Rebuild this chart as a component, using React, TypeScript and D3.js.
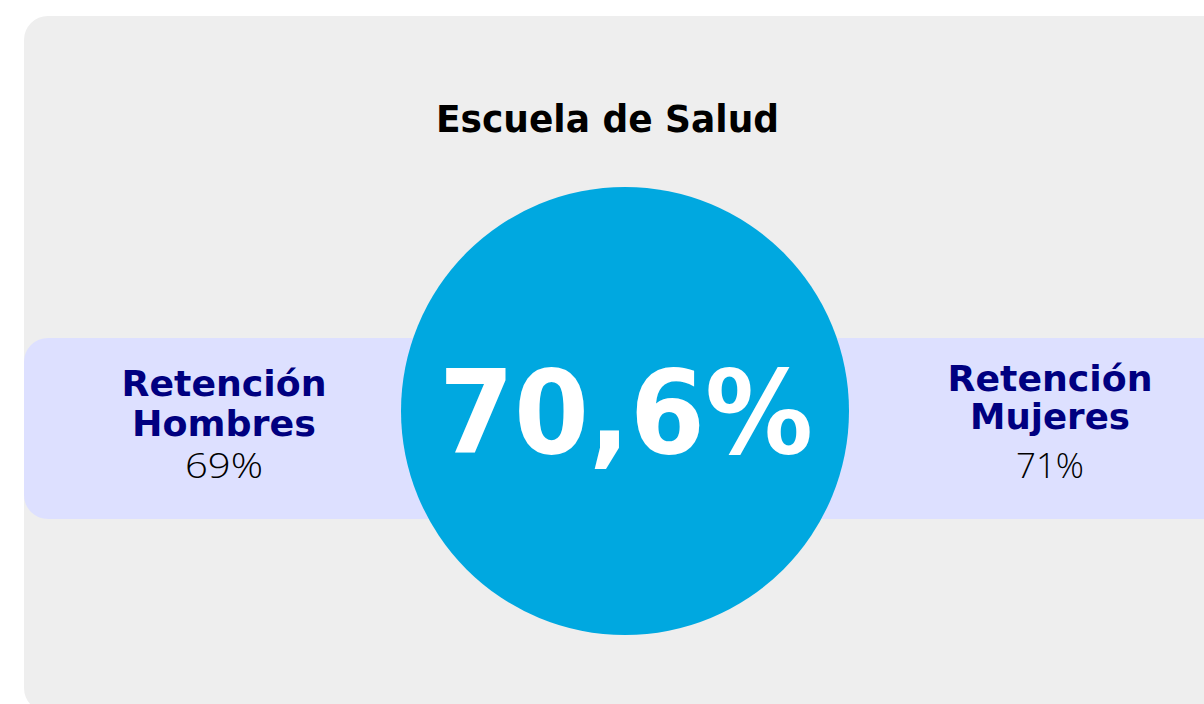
import React from "react";
import * as d3 from "d3";

const title = "Escuela de Salud";
const totalValue = [70.6];
const groupLabels = [["Retención", "Hombres"], ["Retención", "Mujeres"]];
const groupValues = [69, 71];

const W = 1204;
const H = 704;

const esLocale = d3.formatLocale({
  decimal: ",",
  thousands: ".",
  grouping: [3],
  currency: ["", "€"],
});
const fmtTotal = (v: number) => esLocale.format(".1f")(v) + "%";
const fmtGroup = (v: number) => esLocale.format(".0f")(v) + "%";

const BOLD = "'DejaVu Sans', 'Noto Sans', sans-serif";
const LIGHT = "'Open Sans', 'Noto Sans', sans-serif";

export default function App() {
  const x = d3.scaleOrdinal<number, number>().domain([0, 1]).range([224, 1050]);
  const cx = 625;
  const cy = 411;
  const radius = 224;

  const labelBaselines = [
    [396, 436],
    [391, 429],
  ];
  const labelWidths = [
    [205, 184],
    [205, 160],
  ];
  const valueWidths = [78, 68];

  return (
    <svg
      width={W}
      height={H}
      style={{ position: "absolute", left: 0, top: 0, display: "block" }}
    >
      <rect x={0} y={0} width={W} height={H} fill="#ffffff" />
      <rect x={24} y={16} width={W + 40} height={696} rx={24} ry={24} fill="#EEEEEE" />
      <text
        x={607.5}
        y={132}
        textAnchor="middle"
        fontFamily={BOLD}
        fontWeight={700}
        fontSize={37}
        fill="#000000"
        textLength={343}
        lengthAdjust="spacingAndGlyphs"
      >
        {title}
      </text>
      <rect x={24} y={338} width={W + 40} height={181} rx={24} ry={24} fill="#DDE0FF" />
      {totalValue.map((v, i) => (
        <g key={i}>
          <circle cx={cx} cy={cy} r={radius} fill="#00A8E0" />
          <text
            x={626}
            y={453}
            textAnchor="middle"
            fontFamily={BOLD}
            fontWeight={700}
            fontSize={115}
            fill="#ffffff"
            textLength={374}
            lengthAdjust="spacingAndGlyphs"
          >
            {fmtTotal(v)}
          </text>
        </g>
      ))}
      {groupValues.map((v, i) => (
        <g key={i}>
          {groupLabels[i].map((line, j) => (
            <text
              key={j}
              x={x(i)}
              y={labelBaselines[i][j]}
              textAnchor="middle"
              fontFamily={BOLD}
              fontWeight={700}
              fontSize={35}
              fill="#000080"
              textLength={labelWidths[i][j]}
              lengthAdjust="spacingAndGlyphs"
            >
              {line}
            </text>
          ))}
          <text
            x={x(i)}
            y={478}
            textAnchor="middle"
            fontFamily={LIGHT}
            fontWeight={300}
            fontSize={35}
            fill="#000000"
            textLength={valueWidths[i]}
            lengthAdjust="spacingAndGlyphs"
          >
            {fmtGroup(v)}
          </text>
        </g>
      ))}
    </svg>
  );
}
